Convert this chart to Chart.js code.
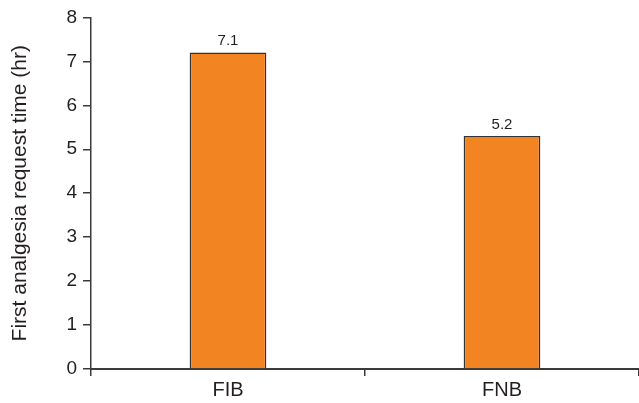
<!DOCTYPE html>
<html>
<head>
<meta charset="utf-8">
<script src="https://cdn.jsdelivr.net/npm/chart.js@4/dist/chart.umd.min.js"></script>
<style>
  html, body { margin: 0; padding: 0; background: #fff; }
  #wrap { width: 639px; height: 403px; }
</style>
</head>
<body>
<div id="wrap"><canvas id="chart" width="639" height="403"></canvas></div>
<script>
'use strict';

// values
const groups = ['FIB', 'FNB'];
const barHeights = [7.2, 5.3];
const barLabels = ['7.1', '5.2'];
const yTicks = [0, 1, 2, 3, 4, 5, 6, 7, 8];

const AXIS = '#3a3a3a';
const TEXT = '#231f20';
const FONT = '"Liberation Sans", Arial, Helvetica, sans-serif';

// writes the value text above each bar
const barLabelPlugin = {
  id: 'barLabels',
  afterDatasetsDraw(chart) {
    const ctx = chart.ctx;
    const meta = chart.getDatasetMeta(0);
    ctx.save();
    ctx.font = `15px ${FONT}`;
    ctx.fillStyle = TEXT;
    ctx.textAlign = 'center';
    ctx.textBaseline = 'bottom';
    meta.data.forEach((bar, i) => {
      ctx.fillText(barLabels[i], bar.x, bar.y - 4);
    });
    ctx.restore();
  }
};

new Chart(document.getElementById('chart'), {
  type: 'bar',
  data: {
    labels: groups,
    datasets: [{
      data: barHeights,
      backgroundColor: '#f38422',
      borderColor: '#333333',
      borderWidth: 1.5,
      borderSkipped: 'bottom',
      categoryPercentage: 1,
      barPercentage: 0.28
    }]
  },
  options: {
    responsive: false,
    animation: false,
    layout: { padding: { top: 17, right: 0, left: 0, bottom: 0 } },
    plugins: {
      legend: { display: false },
      tooltip: { enabled: false }
    },
    scales: {
      x: {
        grid: {
          offset: true,
          drawOnChartArea: false,
          tickLength: 7,
          color: AXIS,
          lineWidth: 1.5
        },
        border: { color: AXIS, width: 2 },
        ticks: {
          color: TEXT,
          font: { family: FONT, size: 20 },
          padding: 2
        },
        afterFit(scale) { scale.height = 34; }
      },
      y: {
        min: 0,
        max: 8,
        afterBuildTicks(scale) {
          scale.ticks = yTicks.map(v => ({ value: v }));
        },
        grid: {
          drawOnChartArea: false,
          tickLength: 8,
          color: AXIS,
          lineWidth: 1.5
        },
        border: { color: AXIS, width: 1.5 },
        ticks: {
          color: TEXT,
          font: { family: FONT, size: 19 },
          padding: 6
        },
        title: {
          display: true,
          text: 'First analgesia request time (hr)',
          color: TEXT,
          font: { family: FONT, size: 21 },
          padding: { top: 8, bottom: 0 }
        },
        afterFit(scale) { scale.width = 91; }
      }
    }
  },
  plugins: [barLabelPlugin]
});
</script>
</body>
</html>
